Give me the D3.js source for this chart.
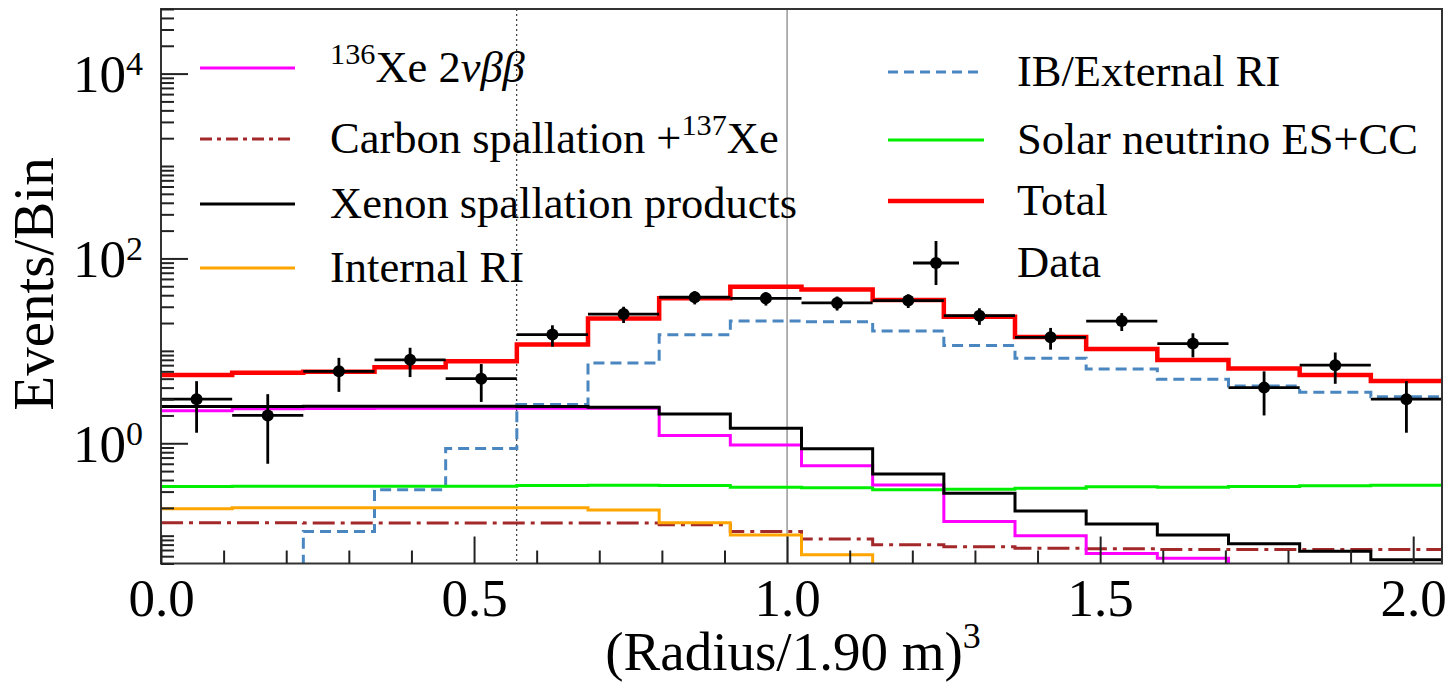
<!DOCTYPE html>
<html>
<head>
<meta charset="utf-8">
<script src="https://cdn.jsdelivr.net/npm/d3@7/dist/d3.min.js"></script>
<style>
body { margin: 0; padding: 0; background: #fff; }
svg { display: block; }
text { font-family: "Liberation Serif", "Times New Roman", serif; fill: #000; }
.tick line { stroke: #222; stroke-width: 2px; }
</style>
</head>
<body>
<svg id="chart" width="1447" height="686"></svg>
<script>
// binning: 18 bins over (Radius/1.90 m)^3
var xMax = 2.046;
var nBins = 18;

// values, one per bin
var dataCounts = [3, 2, 6, 8, 5, 15, 25, 38, 37, 33, 35, 24, 14, 21, 12, 4, 7, 3];
var dataErr    = [1.7, 1.4, 2.4, 2.8, 2.2, 3.9, 5.0, 6.2, 6.1, 5.7, 5.9, 4.9, 3.7, 4.6, 3.5, 2.0, 2.6, 1.7];
var total      = [5.47, 5.8, 5.95, 6.63, 7.7, 11.7, 22.4, 37.0, 49.4, 46.2, 35.4, 23.4, 14.1, 10.5, 7.95, 6.46, 5.47, 4.71];
var ibExternal = [0, 0, 0.111, 0.315, 0.875, 2.62, 7.4, 14.9, 21.0, 20.7, 16.4, 11.4, 8.3, 6.36, 4.92, 4.17, 3.56, 3.19];
var xeSpall    = [2.5, 2.5, 2.52, 2.52, 2.52, 2.5, 2.45, 2.07, 1.45, 0.87, 0.466, 0.288, 0.185, 0.134, 0.102, 0.082, 0.068, 0.055];
var xe136      = [2.25, 2.36, 2.38, 2.4, 2.4, 2.4, 2.39, 1.21, 0.96, 0.57, 0.354, 0.142, 0.1, 0.064, 0.057, 0, 0, 0];
var solar      = [0.34, 0.342, 0.342, 0.342, 0.343, 0.35, 0.352, 0.35, 0.335, 0.33, 0.315, 0.318, 0.325, 0.338, 0.335, 0.34, 0.348, 0.352];
var internalRI = [0.196, 0.2, 0.2, 0.2, 0.2, 0.2, 0.19, 0.138, 0.102, 0.062, 0, 0, 0, 0, 0, 0, 0, 0];
var carbon     = [0.138, 0.138, 0.137, 0.137, 0.137, 0.137, 0.137, 0.131, 0.111, 0.092, 0.08, 0.076, 0.073, 0.072, 0.071, 0.071, 0.071, 0.071];

var xMajorTicks = [0, 0.5, 1.0, 1.5, 2.0];
var yLabelTicks = [1, 100, 10000];
var fvCut = 0.568;   // dotted line
var refLine = 1.0;   // solid grey line

var svg = d3.select("#chart");
var L = 161, R = 1442, T = 9, B = 563.5;

var x = d3.scaleLinear().domain([0, xMax]).range([L, R]);
var y = d3.scaleLog().domain([0.05, 5e4]).range([B, T]);
var binW = xMax / nBins;
var edges = d3.range(nBins + 1).map(i => i * binW);

svg.append("defs").append("clipPath").attr("id", "plotclip")
    .append("rect").attr("x", L).attr("y", T).attr("width", R - L).attr("height", B - T);

var plot = svg.append("g").attr("clip-path", "url(#plotclip)");

// reference lines
plot.append("line")
    .attr("x1", x(fvCut)).attr("x2", x(fvCut)).attr("y1", T).attr("y2", B)
    .style("stroke", "#444").style("stroke-width", 1.3).style("stroke-dasharray", "2,3");
plot.append("line")
    .attr("x1", x(refLine)).attr("x2", x(refLine)).attr("y1", T).attr("y2", B)
    .style("stroke", "#999").style("stroke-width", 1.5);

function yv(v) { return v > 0 ? y(v) : B + 30; }

function stepPath(vals) {
    var p = d3.path();
    p.moveTo(x(edges[0]), yv(vals[0]));
    for (var i = 0; i < vals.length; i++) {
        if (i > 0) p.lineTo(x(edges[i]), yv(vals[i]));
        p.lineTo(x(edges[i + 1]), yv(vals[i]));
    }
    return p.toString();
}

var series = [
    { vals: ibExternal, color: "#4a86bf", w: 3, dash: "11,6" },
    { vals: carbon, color: "#a3282a", w: 3, dash: "22,6,4,6" },
    { vals: internalRI, color: "#ffa500", w: 3, dash: null },
    { vals: solar, color: "#00ee00", w: 3, dash: null },
    { vals: xe136, color: "#ff00ff", w: 3, dash: null },
    { vals: xeSpall, color: "#000000", w: 3, dash: null },
    { vals: total, color: "#ff0000", w: 4.5, dash: null }
];

series.forEach(function(s) {
    plot.append("path")
        .attr("d", stepPath(s.vals))
        .style("fill", "none")
        .style("stroke", s.color)
        .style("stroke-width", s.w)
        .style("stroke-dasharray", s.dash);
});

// data points with error bars
var pts = dataCounts.map((n, i) => ({ x0: edges[i], x1: edges[i + 1], xc: (edges[i] + edges[i + 1]) / 2, n: n, e: dataErr[i] }));
var dg = plot.append("g");
dg.selectAll("line.h").data(pts).enter().append("line")
    .attr("x1", d => x(d.x0)).attr("x2", d => x(d.x1))
    .attr("y1", d => y(d.n)).attr("y2", d => y(d.n))
    .style("stroke", "#000").style("stroke-width", 2.8);
dg.selectAll("line.v").data(pts).enter().append("line")
    .attr("x1", d => x(d.xc)).attr("x2", d => x(d.xc))
    .attr("y1", d => y(d.n + d.e)).attr("y2", d => yv(d.n - d.e))
    .style("stroke", "#000").style("stroke-width", 2.8);
dg.selectAll("circle").data(pts).enter().append("circle")
    .attr("cx", d => x(d.xc)).attr("cy", d => y(d.n)).attr("r", 6)
    .style("fill", "#000");

// frame
svg.append("rect").attr("x", L).attr("y", T).attr("width", R - L).attr("height", B - T)
    .style("fill", "none").style("stroke", "#333").style("stroke-width", 2);

// x axis
var xMinor = d3.range(0, 21).map(i => i / 10).filter(v => xMajorTicks.indexOf(v) < 0 && v <= xMax);
svg.append("g").attr("transform", "translate(0," + B + ")")
    .call(d3.axisBottom(x).tickValues(xMinor).tickSizeInner(-13).tickSizeOuter(0).tickFormat(""))
    .call(g => g.select(".domain").remove());
var xAx = svg.append("g").attr("transform", "translate(0," + B + ")")
    .call(d3.axisBottom(x).tickValues(xMajorTicks).tickSizeInner(-27).tickSizeOuter(0).tickPadding(0)
        .tickFormat(d3.format(".1f")));
xAx.select(".domain").remove();
xAx.selectAll("text").attr("y", 52).attr("dy", null)
    .style("font-size", "53px").style("font-family", "'Liberation Serif', serif");

// y axis
var yMinor = [];
for (var dec = -2; dec <= 4; dec++) {
    for (var m = 1; m <= 9; m++) {
        var v = m * Math.pow(10, dec);
        if (v >= 0.05 && v <= 5e4 && yLabelTicks.indexOf(v) < 0) yMinor.push(v);
    }
}
svg.append("g").attr("transform", "translate(" + L + ",0)")
    .call(d3.axisLeft(y).tickValues(yMinor).tickSizeInner(-13).tickSizeOuter(0).tickFormat(""))
    .call(g => g.select(".domain").remove());
var yAx = svg.append("g").attr("transform", "translate(" + L + ",0)")
    .call(d3.axisLeft(y).tickValues(yLabelTicks).tickSizeInner(-27).tickSizeOuter(0).tickFormat(""));
yAx.select(".domain").remove();
yAx.selectAll(".tick text").remove();
yAx.selectAll(".tick").append("text")
    .attr("x", -18).attr("y", 18).attr("text-anchor", "end")
    .style("font-size", "53px")
    .each(function(d) {
        var t = d3.select(this);
        t.append("tspan").text("10");
        t.append("tspan").text(Math.round(Math.log10(d)))
            .attr("dy", -17).style("font-size", "34px");
    });

// axis titles
var xt = svg.append("text").attr("x", 793).attr("y", 670).attr("text-anchor", "middle")
    .style("font-size", "55px");
xt.append("tspan").text("(Radius/1.90 m)");
xt.append("tspan").text("3").attr("dy", -22).style("font-size", "36px");

svg.append("text").attr("transform", "translate(53,284) rotate(-90)")
    .attr("text-anchor", "middle").style("font-size", "57px").text("Events/Bin");

// legend
var legFs = 44.5;
function addParts(t, parts) {
    var cur = 0;
    parts.forEach(function(p) {
        var want = p.sup ? -0.4 * legFs : 0;
        var ts = t.append("tspan").text(p.t);
        if (want !== cur) ts.attr("dy", want - cur);
        if (p.sup) ts.style("font-size", (legFs * 0.68) + "px");
        if (p.it) ts.style("font-style", "italic");
        cur = want;
    });
}

var legendLeft = [
    { y: 68, color: "#ff00ff", dash: null, parts: [{ t: "136", sup: true }, { t: "Xe 2" }, { t: "\u03BD\u03B2\u03B2", it: true }] },
    { y: 139, color: "#a3282a", dash: "12,5,4,5", parts: [{ t: "Carbon spallation +" }, { t: "137", sup: true }, { t: "Xe" }] },
    { y: 204, color: "#000000", dash: null, parts: [{ t: "Xenon spallation products" }] },
    { y: 268, color: "#ffa500", dash: null, parts: [{ t: "Internal RI" }] }
];
var legendRight = [
    { y: 72, color: "#4a86bf", dash: "10,6", parts: [{ t: "IB/External RI" }] },
    { y: 140, color: "#00ee00", dash: null, parts: [{ t: "Solar neutrino ES+CC" }] },
    { y: 201, color: "#ff0000", dash: null, w: 4.5, parts: [{ t: "Total" }] },
    { y: 263, data: true, parts: [{ t: "Data" }] }
];

function drawLegend(items, x0, x1, tx) {
    items.forEach(function(it) {
        if (it.data) {
            var cx = (x0 + x1) / 2;
            svg.append("line").attr("x1", cx - 23).attr("x2", cx + 23).attr("y1", it.y).attr("y2", it.y)
                .style("stroke", "#000").style("stroke-width", 2.8);
            svg.append("line").attr("x1", cx).attr("x2", cx).attr("y1", it.y - 22).attr("y2", it.y + 22)
                .style("stroke", "#000").style("stroke-width", 2.8);
            svg.append("circle").attr("cx", cx).attr("cy", it.y).attr("r", 6).style("fill", "#000");
        } else {
            svg.append("line").attr("x1", x0).attr("x2", x1).attr("y1", it.y).attr("y2", it.y)
                .style("stroke", it.color).style("stroke-width", it.w || 3)
                .style("stroke-dasharray", it.dash);
        }
        var t = svg.append("text").attr("x", tx).attr("y", it.y + 14).style("font-size", legFs + "px");
        addParts(t, it.parts);
    });
}
drawLegend(legendLeft, 200, 295, 330);
drawLegend(legendRight, 888, 984, 1017);
</script>
</body>
</html>
